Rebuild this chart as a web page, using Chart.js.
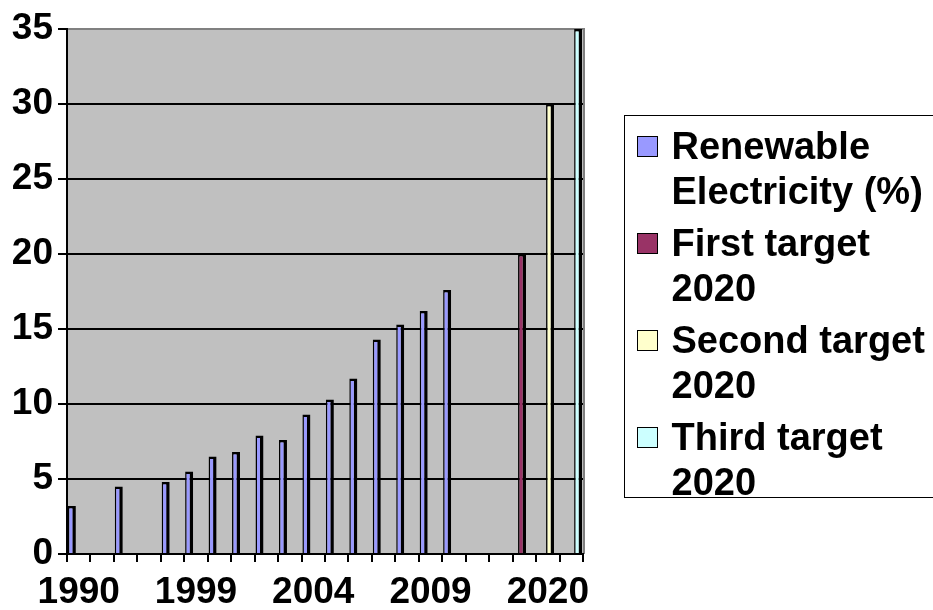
<!DOCTYPE html>
<html>
<head>
<meta charset="utf-8">
<script src="https://cdn.jsdelivr.net/npm/chart.js@4.4.0/dist/chart.umd.min.js"></script>
<style>
  html, body { margin: 0; padding: 0; background: #fff; }
  #wrap { position: relative; width: 933px; height: 610px; overflow: hidden; }
  #legend {
    position: absolute; left: 624px; top: 115px; width: 420px; height: 383px;
    border: 1.5px solid #000; background: #fff; box-sizing: border-box; padding-top: 7.5px;
    font: bold 38px "Liberation Sans", Arial, sans-serif; color: #000;
  }
  .item { position: relative; padding-left: 46.5px; width: 268px; line-height: 45px; margin-bottom: 7px; }
  .box { position: absolute; left: 11.5px; top: 12px; width: 21px; height: 21px; border: 1.5px solid #000; box-sizing: border-box; }
</style>
</head>
<body>
<div id="wrap">
  <canvas id="chart" width="933" height="610"></canvas>
  <div id="legend"></div>
</div>
<script>
// category labels, only every fifth one is printed on the axis
const years = ['1990', '1995', '1996', '1997', '1998', '1999', '2000', '2001', '2002', '2003', '2004',
  '2005', '2006', '2007', '2008', '2009', '2010', '2011', '2012', '2020', '2020', '2020'];

const renewable = [3.2, null, 4.5, null, 4.8, 5.5, 6.5, 6.8, 7.9, 7.6, 9.3,
  10.3, 11.7, 14.3, 15.3, 16.2, 17.6, null, null, null, null, null];
const firstTarget = [null, null, null, null, null, null, null, null, null, null, null,
  null, null, null, null, null, null, null, null, 20, null, null];
const secondTarget = [null, null, null, null, null, null, null, null, null, null, null,
  null, null, null, null, null, null, null, null, null, 30, null];
const thirdTarget = [null, null, null, null, null, null, null, null, null, null, null,
  null, null, null, null, null, null, null, null, null, null, 35];

const seriesNames = ['Renewable Electricity (%)', 'First target 2020', 'Second target 2020', 'Third target 2020'];
const seriesColors = ['#9999FF', '#993366', '#FFFFCC', '#CCFFFF'];

// grey plot area plus the grey right edge of the frame
const plotBackground = {
  id: 'plotBackground',
  beforeDraw(chart) {
    const { ctx, chartArea: a } = chart;
    ctx.save();
    ctx.fillStyle = '#C0C0C0';
    ctx.fillRect(a.left, a.top, a.right - a.left, a.bottom - a.top);
    ctx.strokeStyle = '#808080';
    ctx.lineWidth = 2;
    ctx.beginPath();
    ctx.moveTo(a.right + 1, a.top - 1);
    ctx.lineTo(a.right + 1, a.bottom);
    ctx.stroke();
    ctx.restore();
  }
};

Chart.defaults.font.family = '"Liberation Sans", Arial, sans-serif';
Chart.defaults.color = '#000';

const barStyle = (i) => ({
  backgroundColor: seriesColors[i],
  borderColor: '#000',
  borderWidth: { left: 1.5, right: 3.5, top: 2.5, bottom: 0 },
  categoryPercentage: 0.78,
  barPercentage: 1.75
});

const chart = new Chart(document.getElementById('chart'), {
  type: 'bar',
  data: {
    labels: years,
    datasets: [
      { label: seriesNames[0], data: renewable, ...barStyle(0) },
      { label: seriesNames[1], data: firstTarget, ...barStyle(1) },
      { label: seriesNames[2], data: secondTarget, ...barStyle(2) },
      { label: seriesNames[3], data: thirdTarget, ...barStyle(3) }
    ]
  },
  options: {
    responsive: false,
    animation: false,
    layout: { padding: { top: 29, right: 350, left: 0, bottom: 0 } },
    plugins: {
      legend: { display: false },
      tooltip: { enabled: false }
    },
    scales: {
      x: {
        ticks: {
          autoSkip: false, maxRotation: 0, minRotation: 0, padding: 9,
          font: { size: 37, weight: 'bold' },
          callback: (v, i) => (i % 5 === 0 ? years[i] : '')
        },
        grid: { drawOnChartArea: false, color: '#000', tickColor: '#000', lineWidth: 2, tickLength: 8 },
        border: { color: '#000', width: 2 },
        afterFit: (s) => { s.height = 56; }
      },
      y: {
        min: 0, max: 35,
        ticks: { stepSize: 5, padding: 5, font: { size: 37, weight: 'bold' } },
        grid: {
          color: (c) => (c.tick && c.tick.value === 35 ? '#808080' : '#000'),
          lineWidth: 2,
          tickColor: '#000', tickLength: 9
        },
        border: { color: '#000', width: 2 },
        afterFit: (s) => { s.width = 67; }
      }
    }
  },
  plugins: [plotBackground]
});

// legend as html so the long names wrap like the original
const legend = document.getElementById('legend');
chart.data.datasets.forEach((ds) => {
  const item = document.createElement('div');
  item.className = 'item';
  const box = document.createElement('span');
  box.className = 'box';
  box.style.background = ds.backgroundColor;
  item.appendChild(box);
  item.appendChild(document.createTextNode(ds.label));
  legend.appendChild(item);
});
</script>
</body>
</html>
